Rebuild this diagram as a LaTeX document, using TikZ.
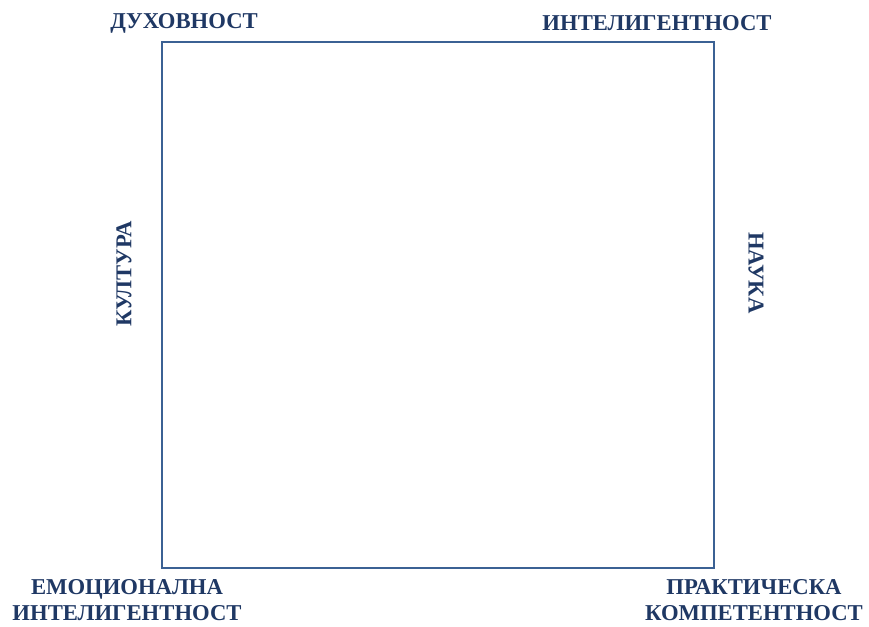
\documentclass[tikz,border=0pt]{standalone}
\usepackage{fontspec}
\setmainfont{Liberation Serif}
\definecolor{labelblue}{HTML}{1F3864}
\definecolor{frameblue}{HTML}{3B6194}
\tikzstyle{corner}=[text=labelblue,font=\fontsize{17}{19.5}\selectfont\bfseries,align=center,inner sep=0pt]
\tikzstyle{frame}=[draw=frameblue,line width=1.5pt]

\begin{document}
\begin{tikzpicture}[x=0.75pt,y=-0.75pt]
\useasboundingbox (0,0) rectangle (869,627);

\draw[frame] (162,42) rectangle (714,568);

% top corners
\node[corner] (spirit) at (184,23) {ДУХОВНОСТ};
\node[corner] (intel) at (657,23) {ИНТЕЛИГЕНТНОСТ};

% sides
\node[corner,rotate=90] (culture) at (124,274) {КУЛТУРА};
\node[corner,rotate=-90] (science) at (756,273) {НАУКА};

% bottom corners
\node[corner] (emotion) at (127,600) {ЕМОЦИОНАЛНА\\ИНТЕЛИГЕНТНОСТ};
\node[corner] (practice) at (754,600) {ПРАКТИЧЕСКА\\КОМПЕТЕНТНОСТ};

\end{tikzpicture}
\end{document}
